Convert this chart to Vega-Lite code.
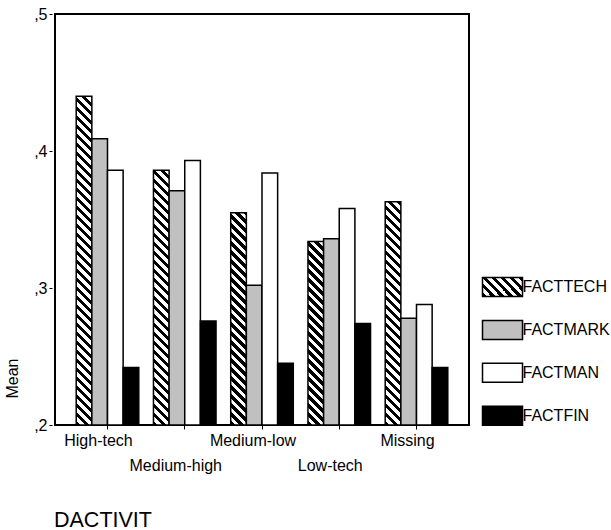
{
  "$schema": "https://vega.github.io/schema/vega-lite/v6.json",
  "width": 414,
  "height": 411,
  "autosize": {"type": "none"},
  "padding": {"left": 55, "top": 14, "right": 142, "bottom": 105},
  "background": "white",
  "params": [
    {"name": "stripes", "value": [
      {"offset":0,"color":"#000"},{"offset":0.0125,"color":"#000"},{"offset":0.0125,"color":"#fff"},{"offset":0.025,"color":"#fff"},
      {"offset":0.025,"color":"#000"},{"offset":0.0375,"color":"#000"},{"offset":0.0375,"color":"#fff"},{"offset":0.05,"color":"#fff"},
      {"offset":0.05,"color":"#000"},{"offset":0.0625,"color":"#000"},{"offset":0.0625,"color":"#fff"},{"offset":0.075,"color":"#fff"},
      {"offset":0.075,"color":"#000"},{"offset":0.0875,"color":"#000"},{"offset":0.0875,"color":"#fff"},{"offset":0.1,"color":"#fff"},
      {"offset":0.1,"color":"#000"},{"offset":0.1125,"color":"#000"},{"offset":0.1125,"color":"#fff"},{"offset":0.125,"color":"#fff"},
      {"offset":0.125,"color":"#000"},{"offset":0.1375,"color":"#000"},{"offset":0.1375,"color":"#fff"},{"offset":0.15,"color":"#fff"},
      {"offset":0.15,"color":"#000"},{"offset":0.1625,"color":"#000"},{"offset":0.1625,"color":"#fff"},{"offset":0.175,"color":"#fff"},
      {"offset":0.175,"color":"#000"},{"offset":0.1875,"color":"#000"},{"offset":0.1875,"color":"#fff"},{"offset":0.2,"color":"#fff"},
      {"offset":0.2,"color":"#000"},{"offset":0.2125,"color":"#000"},{"offset":0.2125,"color":"#fff"},{"offset":0.225,"color":"#fff"},
      {"offset":0.225,"color":"#000"},{"offset":0.2375,"color":"#000"},{"offset":0.2375,"color":"#fff"},{"offset":0.25,"color":"#fff"},
      {"offset":0.25,"color":"#000"},{"offset":0.2625,"color":"#000"},{"offset":0.2625,"color":"#fff"},{"offset":0.275,"color":"#fff"},
      {"offset":0.275,"color":"#000"},{"offset":0.2875,"color":"#000"},{"offset":0.2875,"color":"#fff"},{"offset":0.3,"color":"#fff"},
      {"offset":0.3,"color":"#000"},{"offset":0.3125,"color":"#000"},{"offset":0.3125,"color":"#fff"},{"offset":0.325,"color":"#fff"},
      {"offset":0.325,"color":"#000"},{"offset":0.3375,"color":"#000"},{"offset":0.3375,"color":"#fff"},{"offset":0.35,"color":"#fff"},
      {"offset":0.35,"color":"#000"},{"offset":0.3625,"color":"#000"},{"offset":0.3625,"color":"#fff"},{"offset":0.375,"color":"#fff"},
      {"offset":0.375,"color":"#000"},{"offset":0.3875,"color":"#000"},{"offset":0.3875,"color":"#fff"},{"offset":0.4,"color":"#fff"},
      {"offset":0.4,"color":"#000"},{"offset":0.4125,"color":"#000"},{"offset":0.4125,"color":"#fff"},{"offset":0.425,"color":"#fff"},
      {"offset":0.425,"color":"#000"},{"offset":0.4375,"color":"#000"},{"offset":0.4375,"color":"#fff"},{"offset":0.45,"color":"#fff"},
      {"offset":0.45,"color":"#000"},{"offset":0.4625,"color":"#000"},{"offset":0.4625,"color":"#fff"},{"offset":0.475,"color":"#fff"},
      {"offset":0.475,"color":"#000"},{"offset":0.4875,"color":"#000"},{"offset":0.4875,"color":"#fff"},{"offset":0.5,"color":"#fff"},
      {"offset":0.5,"color":"#000"},{"offset":0.5125,"color":"#000"},{"offset":0.5125,"color":"#fff"},{"offset":0.525,"color":"#fff"},
      {"offset":0.525,"color":"#000"},{"offset":0.5375,"color":"#000"},{"offset":0.5375,"color":"#fff"},{"offset":0.55,"color":"#fff"},
      {"offset":0.55,"color":"#000"},{"offset":0.5625,"color":"#000"},{"offset":0.5625,"color":"#fff"},{"offset":0.575,"color":"#fff"},
      {"offset":0.575,"color":"#000"},{"offset":0.5875,"color":"#000"},{"offset":0.5875,"color":"#fff"},{"offset":0.6,"color":"#fff"},
      {"offset":0.6,"color":"#000"},{"offset":0.6125,"color":"#000"},{"offset":0.6125,"color":"#fff"},{"offset":0.625,"color":"#fff"},
      {"offset":0.625,"color":"#000"},{"offset":0.6375,"color":"#000"},{"offset":0.6375,"color":"#fff"},{"offset":0.65,"color":"#fff"},
      {"offset":0.65,"color":"#000"},{"offset":0.6625,"color":"#000"},{"offset":0.6625,"color":"#fff"},{"offset":0.675,"color":"#fff"},
      {"offset":0.675,"color":"#000"},{"offset":0.6875,"color":"#000"},{"offset":0.6875,"color":"#fff"},{"offset":0.7,"color":"#fff"},
      {"offset":0.7,"color":"#000"},{"offset":0.7125,"color":"#000"},{"offset":0.7125,"color":"#fff"},{"offset":0.725,"color":"#fff"},
      {"offset":0.725,"color":"#000"},{"offset":0.7375,"color":"#000"},{"offset":0.7375,"color":"#fff"},{"offset":0.75,"color":"#fff"},
      {"offset":0.75,"color":"#000"},{"offset":0.7625,"color":"#000"},{"offset":0.7625,"color":"#fff"},{"offset":0.775,"color":"#fff"},
      {"offset":0.775,"color":"#000"},{"offset":0.7875,"color":"#000"},{"offset":0.7875,"color":"#fff"},{"offset":0.8,"color":"#fff"},
      {"offset":0.8,"color":"#000"},{"offset":0.8125,"color":"#000"},{"offset":0.8125,"color":"#fff"},{"offset":0.825,"color":"#fff"},
      {"offset":0.825,"color":"#000"},{"offset":0.8375,"color":"#000"},{"offset":0.8375,"color":"#fff"},{"offset":0.85,"color":"#fff"},
      {"offset":0.85,"color":"#000"},{"offset":0.8625,"color":"#000"},{"offset":0.8625,"color":"#fff"},{"offset":0.875,"color":"#fff"},
      {"offset":0.875,"color":"#000"},{"offset":0.8875,"color":"#000"},{"offset":0.8875,"color":"#fff"},{"offset":0.9,"color":"#fff"},
      {"offset":0.9,"color":"#000"},{"offset":0.9125,"color":"#000"},{"offset":0.9125,"color":"#fff"},{"offset":0.925,"color":"#fff"},
      {"offset":0.925,"color":"#000"},{"offset":0.9375,"color":"#000"},{"offset":0.9375,"color":"#fff"},{"offset":0.95,"color":"#fff"},
      {"offset":0.95,"color":"#000"},{"offset":0.9625,"color":"#000"},{"offset":0.9625,"color":"#fff"},{"offset":0.975,"color":"#fff"},
      {"offset":0.975,"color":"#000"},{"offset":0.9875,"color":"#000"},{"offset":0.9875,"color":"#fff"},{"offset":1,"color":"#fff"}
    ]}
  ],
  "data": {"values": [
    {"cat":"High-tech","series":"FACTTECH","mean":0.440},
    {"cat":"High-tech","series":"FACTMARK","mean":0.409},
    {"cat":"High-tech","series":"FACTMAN","mean":0.386},
    {"cat":"High-tech","series":"FACTFIN","mean":0.242},
    {"cat":"Medium-high","series":"FACTTECH","mean":0.386},
    {"cat":"Medium-high","series":"FACTMARK","mean":0.371},
    {"cat":"Medium-high","series":"FACTMAN","mean":0.393},
    {"cat":"Medium-high","series":"FACTFIN","mean":0.276},
    {"cat":"Medium-low","series":"FACTTECH","mean":0.355},
    {"cat":"Medium-low","series":"FACTMARK","mean":0.302},
    {"cat":"Medium-low","series":"FACTMAN","mean":0.384},
    {"cat":"Medium-low","series":"FACTFIN","mean":0.245},
    {"cat":"Low-tech","series":"FACTTECH","mean":0.334},
    {"cat":"Low-tech","series":"FACTMARK","mean":0.336},
    {"cat":"Low-tech","series":"FACTMAN","mean":0.358},
    {"cat":"Low-tech","series":"FACTFIN","mean":0.274},
    {"cat":"Missing","series":"FACTTECH","mean":0.363},
    {"cat":"Missing","series":"FACTMARK","mean":0.278},
    {"cat":"Missing","series":"FACTMAN","mean":0.288},
    {"cat":"Missing","series":"FACTFIN","mean":0.242}
  ]},
  "mark": {"type": "bar", "stroke": "black", "strokeWidth": 1.5},
  "encoding": {
    "x": {
      "field": "cat", "type": "nominal",
      "sort": ["High-tech","Medium-high","Medium-low","Low-tech","Missing"],
      "scale": {"paddingInner": 0.19, "paddingOuter": 0.2746},
      "axis": {
        "title": "DACTIVIT", "domain": false, "grid": false,
        "ticks": true, "tickSize": 4, "tickColor": "black", "tickWidth": 1,
        "labelAngle": 0, "labelFont": "Liberation Sans", "labelFontSize": 16, "labelColor": "black",
        "labelPadding": 3, "labelOffset": -9, "labelLineHeight": 25, "labelOverlap": false, "labelBound": false,
        "labelExpr": "datum.value === 'Medium-high' || datum.value === 'Low-tech' ? ['', datum.value] : datum.value",
        "titleFont": "Liberation Sans", "titleFontSize": 21.5, "titleFontWeight": "normal", "titleColor": "black",
        "titleAnchor": "start", "titleAlign": "left", "titleBaseline": "alphabetic", "titleX": -1.5, "titleY": 101
      }
    },
    "xOffset": {
      "field": "series", "type": "nominal",
      "sort": ["FACTTECH","FACTMARK","FACTMAN","FACTFIN"],
      "scale": {"paddingInner": 0, "paddingOuter": 0}
    },
    "y": {
      "field": "mean", "type": "quantitative",
      "scale": {"domain": [0.2, 0.5], "nice": false, "zero": false},
      "axis": {
        "title": "Mean", "values": [0.2, 0.3, 0.4, 0.5], "domain": false, "grid": false,
        "offset": 3, "tickSize": 3, "tickColor": "black", "tickWidth": 1,
        "labelPadding": 2, "labelFlush": false, "labelExpr": "',' + round(datum.value * 10)",
        "labelFont": "Liberation Sans", "labelFontSize": 16, "labelColor": "black",
        "titleFont": "Liberation Sans", "titleFontSize": 16, "titleFontWeight": "normal", "titleColor": "black",
        "titleAngle": -90, "titleX": -34.5, "titleY": 364, "titleAlign": "center", "titleBaseline": "alphabetic"
      }
    },
    "y2": {"datum": 0.2},
    "fill": {
      "condition": {
        "test": "datum.series === 'FACTTECH'",
        "value": {"expr": "{gradient: 'linear', x1: 0, y1: 1, x2: 360 * bandwidth('xOffset') / (pow(bandwidth('xOffset'), 2) + pow(scale('y', 0.2) - scale('y', datum.mean), 2)), y2: 1 - 360 * (scale('y', 0.2) - scale('y', datum.mean)) / (pow(bandwidth('xOffset'), 2) + pow(scale('y', 0.2) - scale('y', datum.mean), 2)), stops: stripes}"}
      },
      "field": "series", "type": "nominal",
      "scale": {
        "domain": ["FACTTECH","FACTMARK","FACTMAN","FACTFIN"],
        "range": [
          {"expr": "{gradient: 'linear', x1: 0, y1: 1, x2: 7.3432, y2: -2.488, stops: stripes}"},
          "#c0c0c0", "#ffffff", "#000000"
        ]
      },
      "legend": {
        "orient": "none", "legendX": 426.5, "legendY": 252, "title": null, "padding": 0,
        "symbolType": "M-1,-0.475H1V0.475H-1Z", "symbolSize": 1600,
        "symbolStrokeColor": "black", "symbolStrokeWidth": 1.5,
        "labelFont": "Liberation Sans", "labelFontSize": 16, "labelColor": "black", "labelOffset": -1,
        "rowPadding": 8.9
      }
    }
  },
  "config": {
    "view": {"stroke": "black", "strokeWidth": 2},
    "font": "Liberation Sans"
  }
}
